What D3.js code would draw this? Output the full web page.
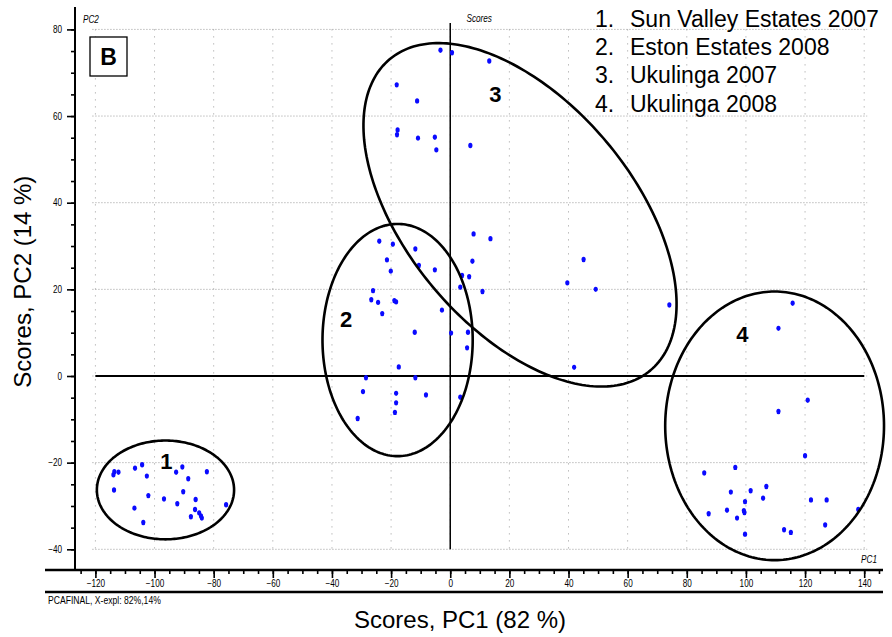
<!DOCTYPE html>
<html>
<head>
<meta charset="utf-8">
<script src="https://cdn.jsdelivr.net/npm/d3@7"></script>
<style>
  body { margin: 0; background: #fff; }
  svg { display: block; }
  text { font-family: "Liberation Sans", Arial, sans-serif; }
</style>
</head>
<body>
<svg id="chart" width="892" height="637"></svg>
<script>
// PCA scores (PC1, PC2) per site and season
const sunValley2007 = [[-113.6,-22.1],[-113.9,-22.8],[-112.2,-22.2],[-106.6,-21.3],[-104.2,-20.5],[-102.6,-23.1],[-113.7,-26.3],[-102.1,-27.6],[-106.8,-30.5],[-103.8,-33.8],[-96.8,-28.4],[-92.7,-22.2],[-90.6,-21.0],[-88.6,-23.7],[-90.3,-26.7],[-92.3,-29.5],[-86.1,-28.5],[-86.3,-30.8],[-87.7,-32.5],[-84.9,-31.6],[-84.3,-32.3],[-84.0,-32.8],[-82.3,-22.1],[-75.8,-29.7]];
const eston2008 = [[-24.0,31.1],[-19.4,30.4],[-11.8,29.3],[-21.4,26.8],[-20.1,24.2],[-10.6,25.5],[-5.2,24.5],[-26.1,19.7],[-26.7,17.6],[-24.4,17.0],[-18.9,17.4],[-18.3,17.1],[-23.0,14.4],[-2.8,15.2],[-12.0,10.1],[0.3,9.9],[6.0,10.1],[5.7,6.5],[-17.4,2.1],[-28.5,-0.4],[-11.8,-0.4],[-29.5,-3.6],[-18.3,-4.0],[-18.3,-6.2],[-18.7,-8.4],[-8.2,-4.4],[3.4,-4.9],[-31.3,-9.8]];
const ukulinga2007 = [[-3.3,75.2],[0.6,74.6],[13.2,72.7],[-18.1,67.2],[-11.2,63.5],[-17.8,56.8],[-18.0,55.7],[-10.9,54.9],[-5.2,55.1],[-4.7,52.2],[6.8,53.2],[7.9,32.8],[13.6,31.7],[7.5,26.5],[4.0,23.2],[6.4,22.9],[3.4,20.5],[10.9,19.5],[45.1,26.9],[39.6,21.5],[49.2,20.0],[74.1,16.4],[41.9,2.0]];
const ukulinga2008 = [[115.8,16.8],[111.0,11.0],[120.9,-5.6],[111.0,-8.2],[120.0,-18.4],[85.9,-22.4],[96.4,-21.1],[94.9,-26.8],[101.6,-26.5],[106.9,-25.5],[105.8,-28.2],[99.7,-29.0],[122.0,-28.6],[127.3,-28.6],[87.4,-31.8],[93.6,-31.0],[99.3,-31.1],[99.5,-31.5],[97.0,-32.8],[138.0,-30.8],[126.8,-34.4],[99.7,-36.5],[112.9,-35.5],[115.2,-36.1]];

const groupNames = ["Sun Valley Estates 2007", "Eston Estates 2008", "Ukulinga 2007", "Ukulinga 2008"];
const groupScores = [sunValley2007, eston2008, ukulinga2007, ukulinga2008];

// Group regions in score units: centre and two conjugate semi-axes
const groupRegions = [
  { cx: -96.3, cy: -26.3, ux: 23.2, uy: 0,     vx: 0,     vy: 11.4 },
  { cx: -17.8, cy: 8.3,   ux: 25.4, uy: 0,     vx: 0,     vy: 26.8 },
  { cx: 23.6,  cy: 37.2,  ux: 44.1, uy: -35.9, vx: -29.3, vy: -16.8 },
  { cx: 109.7, cy: -11.5, ux: 37.0, uy: 0,     vx: 0,     vy: 31.0 }
];
// Group number positions in score units
const groupLabelPos = [[-96, -19.8], [-35.2, 13.0], [15.3, 65.0], [98.8, 9.5]];

const xTicks = [-120, -100, -80, -60, -40, -20, 0, 20, 40, 60, 80, 100, 120, 140];
const yTicks = [-40, -20, 0, 20, 40, 60, 80];
const xMinorTicks = d3.range(-125, 146, 5);
const yMinorTicks = d3.range(-40, 81, 5);

const NARROW = 0.82; // horizontal squeeze for the small condensed captions

const svg = d3.select("#chart");

const x = d3.scaleLinear().domain([-120, 140]).range([95.4, 864.2]);
const y = d3.scaleLinear().domain([-40, 80]).range([549.3, 29.4]);

// Small condensed caption at (px, py)
function caption(px, py, str, opts = {}) {
  return svg.append("text")
    .attr("transform", `translate(${px},${py}) scale(${NARROW},1)`)
    .attr("font-size", opts.size || 10)
    .attr("font-style", opts.italic ? "italic" : null)
    .attr("text-anchor", opts.anchor || "start")
    .text(str);
}

// Dotted grid
const grid = svg.append("g").attr("stroke", "#9a9a9a").attr("stroke-width", 1).attr("fill", "none");
grid.selectAll("line.h").data(yTicks).join("line")
  .attr("class", "h")
  .attr("x1", x(-121)).attr("x2", x(141))
  .attr("y1", d => y(d)).attr("y2", d => y(d))
  .attr("stroke-dasharray", "1,2");
grid.selectAll("line.v").data(xTicks).join("line")
  .attr("class", "v")
  .attr("x1", d => x(d)).attr("x2", d => x(d))
  .attr("y1", y(80)).attr("y2", y(-40))
  .attr("stroke-dasharray", "1,6");

// Zero lines
svg.append("line")
  .attr("x1", x(-120)).attr("x2", x(140))
  .attr("y1", y(0)).attr("y2", y(0))
  .attr("stroke", "#000").attr("stroke-width", 2);
svg.append("line")
  .attr("x1", x(0)).attr("x2", x(0))
  .attr("y1", y(81.5)).attr("y2", y(-40))
  .attr("stroke", "#000").attr("stroke-width", 1.5);

// Y axis
const yMinorG = svg.append("g").attr("transform", "translate(75,0)")
  .call(d3.axisLeft(y).tickValues(yMinorTicks).tickSize(4).tickFormat(""));
yMinorG.select(".domain").remove();
yMinorG.selectAll("line").attr("stroke-width", 1.6);
const yMajor = svg.append("g").attr("transform", "translate(75,0)")
  .call(d3.axisLeft(y).tickValues(yTicks).tickSize(8).tickPadding(5));
yMajor.select(".domain").remove();
yMajor.selectAll("line").attr("stroke-width", 1.6);
yMajor.selectAll("text")
  .attr("font-family", null).attr("font-size", 10).attr("fill", "#000")
  .attr("x", -13 / NARROW).attr("transform", `scale(${NARROW},1)`);
svg.append("line").attr("x1", 75).attr("x2", 75).attr("y1", 7).attr("y2", 570)
  .attr("stroke", "#000").attr("stroke-width", 2);

// X axis (two rules with ticks between)
const xMinorG = svg.append("g").attr("transform", "translate(0,570)")
  .call(d3.axisBottom(x).tickValues(xMinorTicks).tickSize(4).tickFormat(""));
xMinorG.select(".domain").remove();
xMinorG.selectAll("line").attr("stroke-width", 1.6);
const xMajor = svg.append("g").attr("transform", "translate(0,570)")
  .call(d3.axisBottom(x).tickValues(xTicks).tickSize(8).tickPadding(2));
xMajor.select(".domain").remove();
xMajor.selectAll("line").attr("stroke-width", 1.6);
xMajor.selectAll("text")
  .attr("font-family", null).attr("font-size", 10).attr("fill", "#000")
  .attr("transform", `scale(${NARROW},1)`);
svg.append("line").attr("x1", 45).attr("x2", 883).attr("y1", 570).attr("y2", 570)
  .attr("stroke", "#000").attr("stroke-width", 2.5);
svg.append("line").attr("x1", 45).attr("x2", 883).attr("y1", 592).attr("y2", 592)
  .attr("stroke", "#000").attr("stroke-width", 2.5);

// Small italic axis captions
caption(83, 23, "PC2", { italic: true });
caption(x(0) + 29, 22, "Scores", { italic: true, anchor: "middle" });
caption(877, 563, "PC1", { italic: true, anchor: "end" });
caption(48, 604, "PCAFINAL, X-expl: 82%,14%", { size: 10.5 });

// Score points
const pts = groupScores.flat();
svg.append("g").selectAll("ellipse").data(pts).join("ellipse")
  .attr("cx", d => x(d[0])).attr("cy", d => y(d[1]))
  .attr("rx", 2.1).attr("ry", 2.7)
  .attr("fill", "#0a0aff");

// Group ellipses
const ellipseLine = d3.line().curve(d3.curveLinearClosed);
const tSteps = d3.range(0, 2 * Math.PI, Math.PI / 120);
svg.append("g").selectAll("path").data(groupRegions).join("path")
  .attr("d", r => ellipseLine(tSteps.map(t => [
    x(r.cx + r.ux * Math.cos(t) + r.vx * Math.sin(t)),
    y(r.cy + r.uy * Math.cos(t) + r.vy * Math.sin(t))
  ])))
  .attr("fill", "none").attr("stroke", "#000").attr("stroke-width", 2.6);

// Group numbers
svg.append("g").selectAll("text").data(groupLabelPos).join("text")
  .attr("x", d => x(d[0])).attr("y", d => y(d[1]))
  .attr("text-anchor", "middle").attr("dominant-baseline", "central")
  .attr("font-weight", "bold").attr("font-size", 22)
  .text((d, i) => i + 1);

// Panel letter
svg.append("rect").attr("x", 90).attr("y", 37).attr("width", 37).attr("height", 39)
  .attr("fill", "#fff").attr("stroke", "#000").attr("stroke-width", 1.3);
svg.append("text").attr("x", 108.5).attr("y", 65)
  .attr("text-anchor", "middle")
  .attr("font-weight", "bold").attr("font-size", 23).text("B");

// Legend
const legend = svg.append("g").attr("font-size", 23).attr("fill", "#000");
groupNames.forEach((name, i) => {
  const by = 26.7 + i * 28.35;
  legend.append("text").attr("x", 595).attr("y", by).text((i + 1) + ".");
  legend.append("text").attr("x", 630).attr("y", by).text(name);
});

// Axis titles
svg.append("text")
  .attr("x", 460).attr("y", 627.5).attr("text-anchor", "middle")
  .attr("font-size", 24)
  .text("Scores, PC1 (82 %)");
svg.append("text")
  .attr("transform", "translate(31,281.7) rotate(-90)")
  .attr("text-anchor", "middle")
  .attr("font-size", 24)
  .text("Scores, PC2 (14 %)");
</script>
</body>
</html>
